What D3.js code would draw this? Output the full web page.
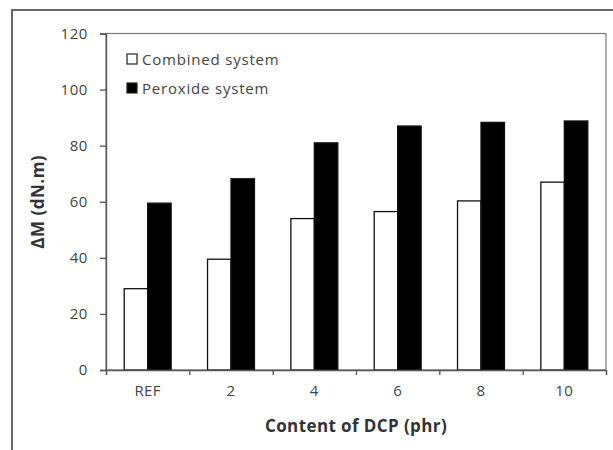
<!DOCTYPE html>
<html><head><meta charset="utf-8">
<script src="https://cdn.jsdelivr.net/npm/d3@7"></script>
<style>
html,body{margin:0;padding:0;background:#fff;}
svg{display:block;font-family:"Open Sans","Liberation Sans",sans-serif;}
</style></head>
<body>
<svg id="c" width="613" height="450"></svg>
<script>
const categories = ["REF","2","4","6","8","10"];
const seriesNames = ["Combined system","Peroxide system"];
const combined = [29, 39.5, 54, 56.5, 60.3, 67];
const peroxide = [59.5, 68.2, 81, 87, 88.3, 88.8];
const yTicks = [0,20,40,60,80,100,120];

const svg = d3.select("#c");
const m = {left:106, right:606, top:33.5, bottom:370};

// outer frame
svg.append("rect").attr("x",12).attr("y",10).attr("width",640).attr("height",480)
  .attr("fill","none").attr("stroke","#444").attr("stroke-width",1.6);

const x = d3.scaleBand().domain(categories).range([m.left,m.right]).paddingInner(0).paddingOuter(0);
const y = d3.scaleLinear().domain([0,120]).range([m.bottom,m.top]);
const inner = d3.scaleBand().domain(seriesNames).range([0,x.bandwidth()]).paddingInner(0).paddingOuter(0.775);

// plot area box
svg.append("rect").attr("x",m.left).attr("y",m.top).attr("width",m.right-m.left).attr("height",m.bottom-m.top)
  .attr("fill","none").attr("stroke","#777").attr("stroke-width",1.2);

const data = categories.map((c,i)=>({c, vals:[{s:seriesNames[0],v:combined[i]},{s:seriesNames[1],v:peroxide[i]}]}));
const g = svg.append("g");
g.selectAll("g.grp").data(data).join("g").attr("class","grp")
  .attr("transform",d=>`translate(${x(d.c)},0)`)
  .selectAll("rect").data(d=>d.vals).join("rect")
  .attr("x",d=>inner(d.s)).attr("width",inner.bandwidth())
  .attr("y",d=>y(d.v)).attr("height",d=>y(0)-y(d.v))
  .attr("fill",d=>d.s===seriesNames[0]?"#fff":"#000")
  .attr("stroke","#111").attr("stroke-width",1.3);

// y axis
const ya = svg.append("g").attr("transform",`translate(${m.left},0)`)
  .call(d3.axisLeft(y).tickValues(yTicks).tickSize(6).tickPadding(12));
ya.select(".domain").attr("stroke","#555").attr("stroke-width",1.3);
ya.selectAll(".tick line").attr("stroke","#555").attr("stroke-width",1.3);
ya.selectAll(".tick text").attr("font-size",15).attr("letter-spacing","0.6px").attr("fill","#444").attr("font-family","'Open Sans',sans-serif");

// x axis
const xEdge = d3.scaleLinear().domain([0,categories.length]).range([m.left,m.right]);
const xa = svg.append("g").attr("transform",`translate(0,${m.bottom})`)
  .call(d3.axisBottom(xEdge).tickValues(d3.range(0,categories.length+1)).tickSize(5).tickFormat(""));
xa.select(".domain").attr("stroke","#555").attr("stroke-width",1.3);
xa.selectAll(".tick line").attr("stroke","#555").attr("stroke-width",1.3);
const xl = svg.append("g").attr("transform",`translate(0,${m.bottom})`)
  .call(d3.axisBottom(x).tickSize(0).tickPadding(15));
xl.select(".domain").remove();
xl.selectAll(".tick text").attr("font-size",15).attr("letter-spacing","0.4px").attr("fill","#444").attr("font-family","'Open Sans',sans-serif");

// axis titles
svg.append("text").attr("x",(m.left+m.right)/2).attr("y",432).attr("text-anchor","middle")
  .attr("font-size",17).attr("font-weight","bold").attr("letter-spacing","0.4px").attr("fill","#333").text("Content of DCP (phr)");
svg.append("text").attr("transform",`translate(44,${(m.top+m.bottom)/2}) rotate(-90)`)
  .attr("text-anchor","middle").attr("font-size",17).attr("font-weight","bold").attr("letter-spacing","0.5px").attr("fill","#333")
  .text("ΔM (dN.m)");

// legend
const lg = svg.append("g").attr("transform","translate(127,54)");
seriesNames.forEach((s,i)=>{
  const row = lg.append("g").attr("transform",`translate(0,${i*29})`);
  row.append("rect").attr("x",0).attr("y",0).attr("width",10).attr("height",10)
    .attr("fill",i===0?"#fff":"#000").attr("stroke","#222").attr("stroke-width",1.2);
  row.append("text").attr("x",15).attr("y",10.5).attr("font-size",15).attr("letter-spacing","0.8px").attr("fill","#444").text(s);
});
</script>
</body></html>
